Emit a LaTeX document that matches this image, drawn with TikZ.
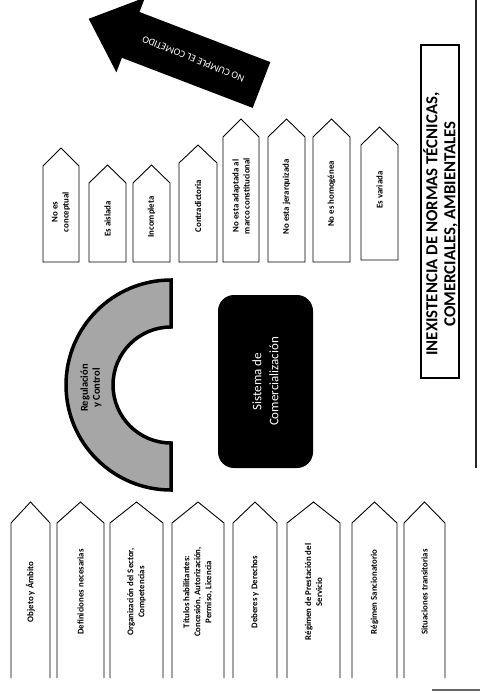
\documentclass[tikz,border=0pt]{standalone}
\usepackage{fontspec}
\setmainfont{Carlito}
\begin{document}
\begin{tikzpicture}[x=1pt,y=-1pt,
  outl/.style={draw=black, line width=0.9pt, line join=miter},
  lbl/.style={rotate=90, font=\bfseries\fontsize{8.8}{11}\selectfont, align=center, inner sep=0pt},
]
\useasboundingbox (0,0) rectangle (480,693);

% scan border lines
\draw[line width=2.5pt, black!85] (476,0) -- (476,468);
\draw[line width=2pt, black!60] (432,690) -- (480,690);

% bottom row of arrow strips (open at the bottom)
\foreach \n/\xl/\xr/\t in {
  b1/11/50/{Objeto y Ámbito},
  b2/57/104/{Definiciones necesarias},
  b3/110/163/{Organización del Sector,\\Competencias},
  b4/172/224/{Títulos habilitantes:\\Concesión, Autorización,\\Permiso, Licencia},
  b5/233/277/{Deberes y Derechos},
  b6/287/340/{Régimen de Prestación del\\Servicio},
  b7/352/397/{Régimen Sancionatorio},
  b8/404/445/{Situaciones transitorias}} {
  \pgfmathsetmacro\xm{(\xl+\xr)/2}
  \draw[outl] (\xl,678) -- (\xl,523) -- (\xm,502) -- (\xr,523) -- (\xr,678);
  \node[lbl] (\n) at (\xm,592) {\t};
}

% top row of closed pentagons
\foreach \n/\xl/\xr/\tp/\sh/\bt/\ty/\t in {
  t1/43/79/148/166/262/212/{No es\\conceptual},
  t2/89/126/165/183/262/219/{Es aislada},
  t3/133/170/165/183/262/217/{Incompleta},
  t4/179/217/145/163/262/206/{Contradictoria},
  t5/223/259/119/137/262/196/{No esta adaptada al\\marco constitucional},
  t6/268/305/119/137/262/197/{No esta jerarquizada},
  t7/313/350/119/137/262/194/{No es homogénea},
  t8/361/398/127/145/260/190/{Es variada}} {
  \pgfmathsetmacro\xm{(\xl+\xr)/2}
  \draw[outl] (\xl,\bt) -- (\xl,\sh) -- (\xm,\tp) -- (\xr,\sh) -- (\xr,\bt) -- cycle;
  \node[lbl] (\n) at (\xm,\ty) {\t};
}

% black block arrow
\fill[black] (270.3,62.1) -- (139.5,12.0) -- (145.0,-2.5) -- (88.7,18.8)
  -- (116.4,72.3) -- (121.9,57.8) -- (252.7,107.9) -- cycle;
\node[rotate=158, text=white, font=\fontsize{10}{12}\selectfont, inner sep=0pt]
  (nocumple) at (193.3,58.9) {NO CUMPLE EL COMETIDO};

% horseshoe
\draw[line width=3.5pt, fill=black!35, line join=miter]
  (171,280) arc[start angle=270, end angle=90, radius=105] -- (171,443)
  arc[start angle=90, end angle=270, radius=58] -- cycle;
\node[rotate=90, font=\bfseries\fontsize{10.5}{12}\selectfont, align=center, inner sep=0pt]
  (reg) at (91,388) {Regulación\\y Control};

% Sistema de Comercializacion
\node[rotate=90, fill=black, rounded corners=16pt, minimum width=173pt, minimum height=95pt,
  text=white, align=center, font=\fontsize{13}{17}\selectfont]
  (sis) at (265.5,381.5) {Sistema de\\Comercialización};

% INEXISTENCIA box
\draw[line width=1.3pt] (421,45) rectangle (459,378);
\node[rotate=90, font=\bfseries\fontsize{16.8}{18}\selectfont, align=center, inner sep=0pt]
  (inex) at (440.5,224) {INEXISTENCIA DE NORMAS TÉCNICAS,\\COMERCIALES, AMBIENTALES};
\end{tikzpicture}
\end{document}
